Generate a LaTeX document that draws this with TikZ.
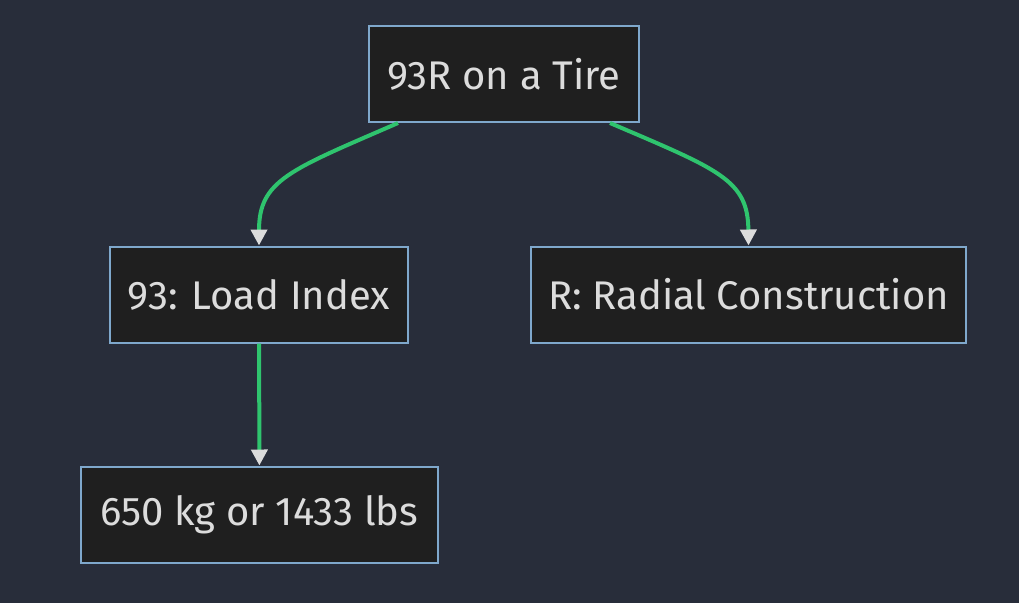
\documentclass[tikz,border=0pt]{standalone}
\usepackage{fontspec}
\setmainfont{Fira Sans}
\usetikzlibrary{arrows.meta,calc}
\definecolor{bgc}{HTML}{282D3A}
\definecolor{boxc}{HTML}{1F1F1F}
\definecolor{edgec}{HTML}{7FA8CC}
\definecolor{linkc}{HTML}{2FC46E}
\definecolor{txtc}{HTML}{DCDCDC}
\tikzset{
  box/.style={draw=edgec, line width=2pt, fill=boxc, text=txtc, font=\fontsize{40}{46}\selectfont,
    minimum height=96pt, inner xsep=10pt},
  link/.style={draw=linkc, line width=4pt, -{Triangle[color=txtc, length=16pt, width=16pt]}}
}
\begin{document}
\begin{tikzpicture}[x=1pt,y=-1pt]
      \fill[bgc] (0,0) rectangle (1019,603);

      \node[box, minimum width=270pt] (tire) at (504,74) {93R on a Tire};
      \node[box, minimum width=298pt] (load) at (259,294.5) {93: Load Index};
      \node[box, minimum width=435pt] (radial) at (748.5,294.5) {R: Radial Construction};
      \node[box, minimum width=357pt] (mass) at (259.5,514.5) {650 kg or 1433 lbs};

      \draw[link] ($(tire.south)+(-106,0)$) .. controls (290,170) and (259,180) .. (load.north);
      \draw[link] ($(tire.south)+(106,0)$) .. controls (720,170) and (748,180) .. (radial.north);
      \draw[link] (load) -- (mass);

\end{tikzpicture}
\end{document}
